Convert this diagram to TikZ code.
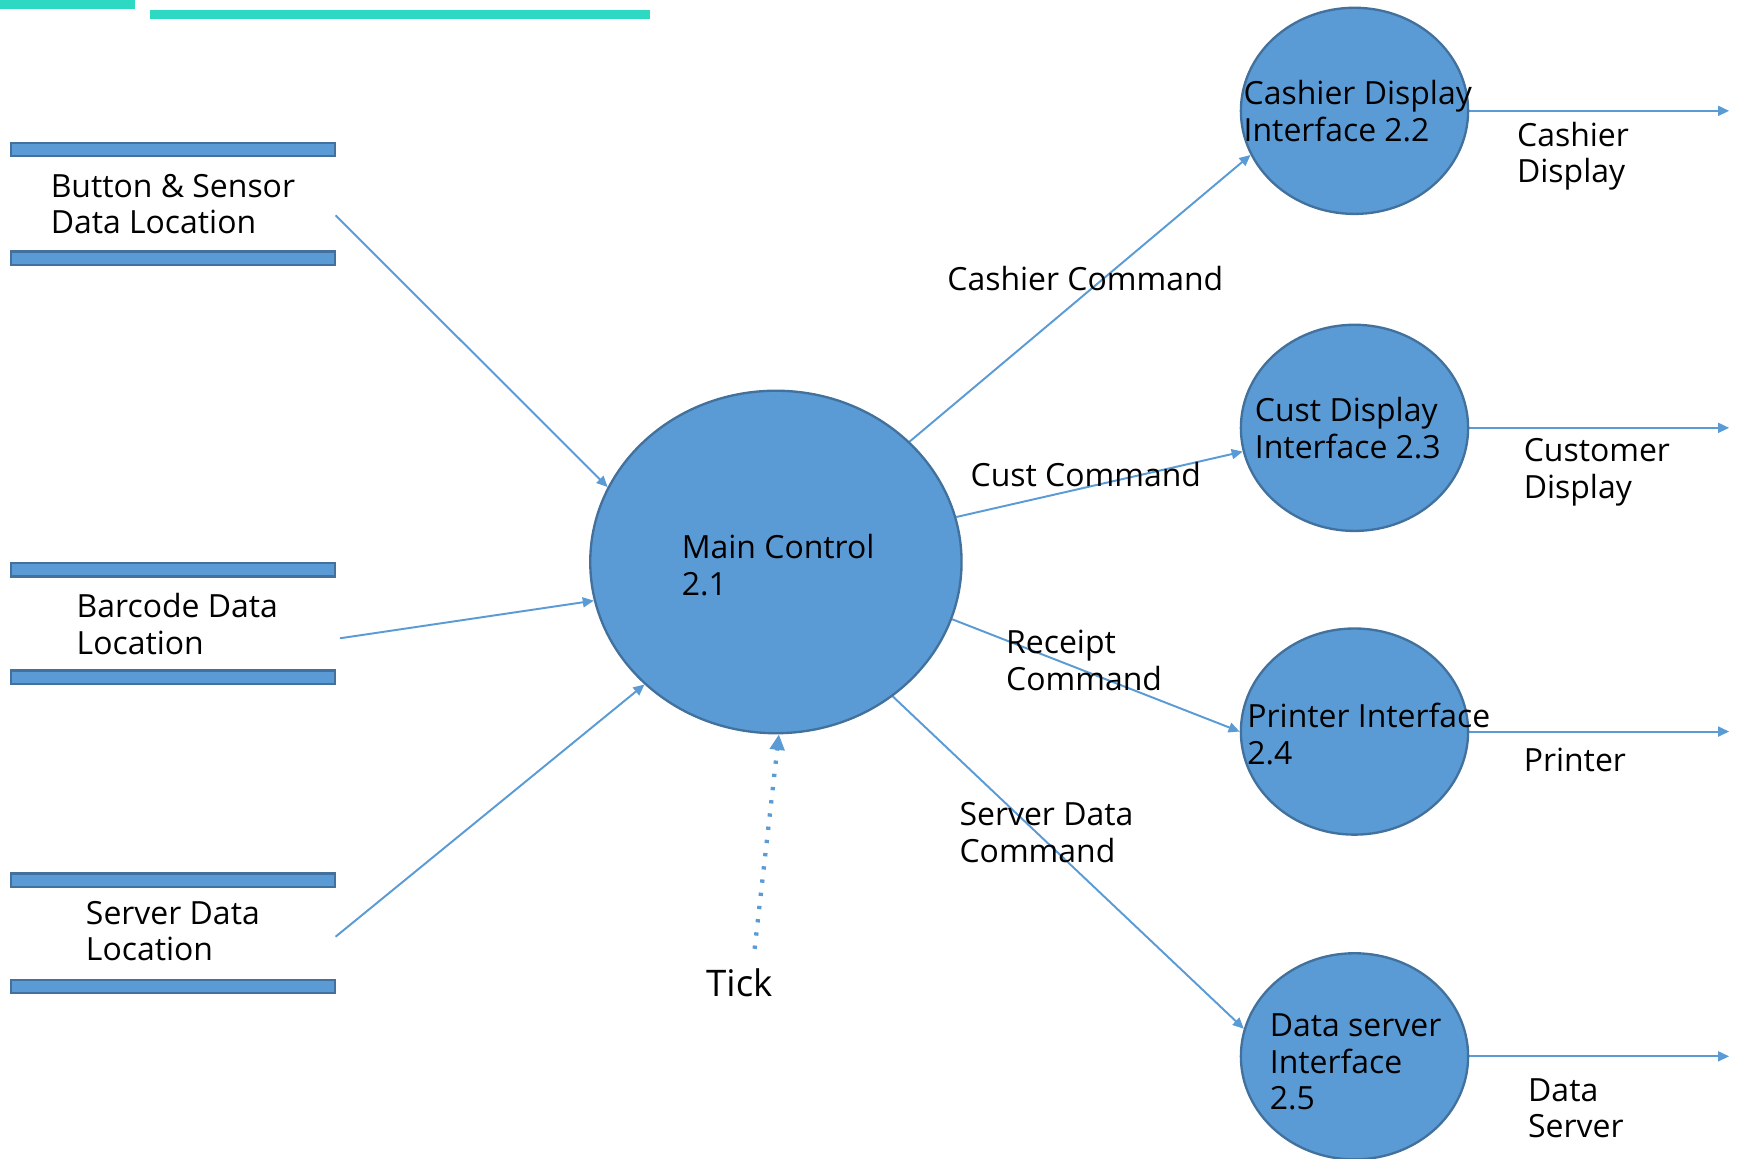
\documentclass[tikz,border=0pt]{standalone}
\usepackage{xcolor}
\usepackage{fontspec}
\setmainfont{Open Sans}
\usepackage{tikz}
\usetikzlibrary{shapes.geometric}
\usetikzlibrary{arrows.meta}
\pgfdeclarelayer{edgelayer}
\pgfdeclarelayer{nodelayer}
\pgfsetlayers{edgelayer,nodelayer,main}
\definecolor{ProcBlue}{HTML}{5B9BD5}
\definecolor{ProcEdge}{HTML}{41719C}
\definecolor{TopTeal}{HTML}{2ED9C3}
\newcommand{\dfdfont}{\fontsize{8.2}{9.4}\selectfont}
\newcommand{\dfdtickfont}{\fontsize{9.4}{11}\selectfont}
\tikzstyle{none}=[inner sep=0pt]
\tikzstyle{proc}=[ellipse,fill=ProcBlue,draw=ProcEdge,line width=0.6pt,minimum width=2.05cm,minimum height=1.86cm,inner sep=0pt]
\tikzstyle{mainproc}=[proc,minimum width=3.35cm,minimum height=3.09cm]
\tikzstyle{bar}=[rectangle,fill=ProcBlue,draw=ProcEdge,line width=0.6pt,minimum width=2.92cm,minimum height=0.12cm,inner sep=0pt]
\tikzstyle{store}=[rectangle,minimum width=2.92cm,minimum height=0.86cm,align=left,inner sep=0pt,font=\dfdfont]
\tikzstyle{txt}=[inner sep=0pt,align=left,font=\dfdfont]
\tikzstyle{flowlabel}=[txt,anchor=west]
\tikzstyle{ticklabel}=[inner sep=5pt,font=\dfdtickfont]
\tikzstyle{flow}=[-{Triangle[length=0.1cm,width=0.09cm]},draw=ProcBlue,line width=0.5pt]
\tikzstyle{clock}=[-{Triangle[length=0.14cm,width=0.13cm]},draw=ProcBlue,line width=1.1pt,dash pattern=on 0.03cm off 0.09cm]

\begin{document}
\begin{tikzpicture}
	\useasboundingbox (0,0) rectangle (15.68,-10.45);
	\fill [TopTeal] (0,0) rectangle (1.22,-0.08);
	\fill [TopTeal] (1.35,-0.09) rectangle (5.86,-0.17);
	\begin{pgfonlayer}{nodelayer}
		\node [style=bar] (0) at (1.56,-1.35) {};
		\node [style=bar] (1) at (1.56,-2.33) {};
		\node [style=bar] (2) at (1.56,-5.14) {};
		\node [style=bar] (3) at (1.56,-6.11) {};
		\node [style=bar] (4) at (1.56,-7.94) {};
		\node [style=bar] (5) at (1.56,-8.90) {};
		\node [style=store] (6) at (1.56,-1.84) {Button \& Sensor\\Data Location};
		\node [style=store] (7) at (1.60,-5.63) {Barcode Data\\Location};
		\node [style=store] (8) at (1.56,-8.40) {Server Data\\Location};
		\node [style=mainproc] (9) at (7.00,-5.07) {};
		\node [style=proc] (10) at (12.22,-1.00) {};
		\node [style=proc] (11) at (12.22,-3.86) {};
		\node [style=proc] (12) at (12.22,-6.60) {};
		\node [style=proc] (13) at (12.22,-9.53) {};
		\node [style=txt] (14) at (7.02,-5.10) {Main Control\\2.1};
		\node [style=txt] (15) at (12.25,-1.00) {Cashier Display\\Interface 2.2};
		\node [style=txt] (16) at (12.16,-3.86) {Cust Display\\Interface 2.3};
		\node [style=txt] (17) at (12.35,-6.62) {Printer Interface\\2.4};
		\node [style=txt] (18) at (12.23,-9.58) {Data server\\Interface\\2.5};
		\node [style=flowlabel] (19) at (8.54,-2.51) {Cashier Command};
		\node [style=flowlabel] (20) at (8.75,-4.28) {Cust Command};
		\node [style=flowlabel] (21) at (9.07,-5.96) {Receipt\\Command};
		\node [style=flowlabel] (22) at (8.65,-7.51) {Server Data\\Command};
		\node [style=flowlabel] (23) at (13.68,-1.41) {Cashier\\Display};
		\node [style=flowlabel] (24) at (13.74,-4.26) {Customer\\Display};
		\node [style=flowlabel] (25) at (13.74,-6.86) {Printer};
		\node [style=flowlabel] (26) at (13.78,-10.00) {Data\\Server};
		\node [style=ticklabel] (27) at (6.67,-8.87) {Tick};
		\node [style=none] (28) at (15.60,-1.00) {};
		\node [style=none] (29) at (15.60,-3.86) {};
		\node [style=none] (30) at (15.60,-6.60) {};
		\node [style=none] (31) at (15.60,-9.53) {};
	\end{pgfonlayer}
	\begin{pgfonlayer}{edgelayer}
		\draw [style=flow] (6.-4) to (9.156);
		\draw [style=flow] (7.-5) to (9.192);
		\draw [style=flow] (8.-2) to (9.223);
		\draw [style=clock] (27.66) to (9.271);
		\draw [style=flow] (9.42) to (10.203);
		\draw [style=flow] (9.14) to (11.192);
		\draw [style=flow] (9.-18) to (12.180);
		\draw [style=flow] (9.-49) to (13.166);
		\draw [style=flow] (10) to (28.center);
		\draw [style=flow] (11) to (29.center);
		\draw [style=flow] (12) to (30.center);
		\draw [style=flow] (13) to (31.center);
	\end{pgfonlayer}
\end{tikzpicture}
\end{document}
